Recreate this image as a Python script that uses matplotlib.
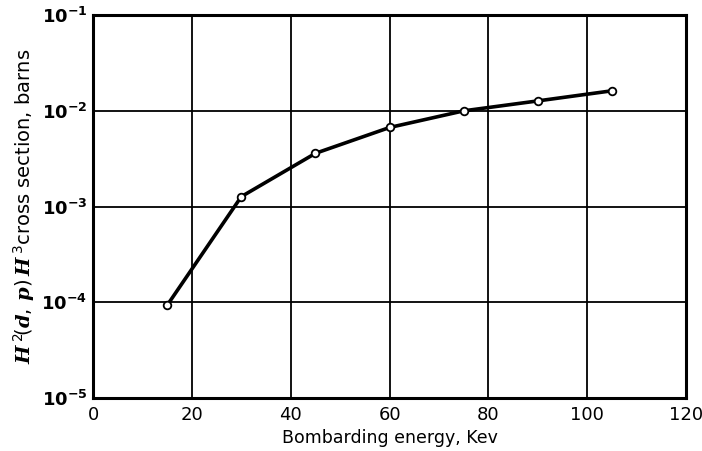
import numpy as np
import matplotlib.pyplot as plt
from matplotlib.ticker import FixedLocator, NullLocator

# DATA
energy = [15, 30, 45, 60, 75, 90, 105]          # Kev
cross_section = [9.3e-5, 1.27e-3, 3.6e-3, 6.7e-3, 1.0e-2, 1.27e-2, 1.62e-2]  # barns

x_ticks = [0, 20, 40, 60, 80, 100, 120]
y_ticks = [1e-5, 1e-4, 1e-3, 1e-2, 1e-1]
y_ticklabels = [r'$\mathbf{10^{-5}}$', r'$\mathbf{10^{-4}}$', r'$\mathbf{10^{-3}}$',
                r'$\mathbf{10^{-2}}$', r'$\mathbf{10^{-1}}$']

plt.rcParams['mathtext.fontset'] = 'custom'
plt.rcParams['mathtext.rm'] = 'DejaVu Sans'
plt.rcParams['mathtext.bf'] = 'DejaVu Sans:bold'
plt.rcParams['mathtext.it'] = 'DejaVu Serif:italic:bold'

fig = plt.figure(figsize=(7.02, 4.51), dpi=100)
ax = fig.add_axes([0.1325, 0.1175, 0.845, 0.849])

ax.set_yscale('log')
ax.set_xlim(0, 120)
ax.set_ylim(1e-5, 1e-1)

ax.xaxis.set_major_locator(FixedLocator(x_ticks))
ax.yaxis.set_major_locator(FixedLocator(y_ticks))
ax.yaxis.set_minor_locator(NullLocator())
ax.set_yticklabels(y_ticklabels)
ax.tick_params(length=0, labelsize=13, pad=4)
ax.tick_params(axis='x', pad=6)

ax.grid(True, color='black', linewidth=1.3)
for s in ax.spines.values():
    s.set_linewidth(2.2)

# Curve and data points
ax.plot(energy, cross_section, color='black', linewidth=2.6, zorder=3)
ax.plot(energy, cross_section, linestyle='none', marker='o', markersize=5.5,
        markerfacecolor='white', markeredgecolor='black', markeredgewidth=1.3, zorder=4)

ax.set_xlabel('Bombarding energy, Kev', fontsize=12.5, labelpad=3)
ax.set_ylabel(r'$H^{\,2}\!(d,\,p)\,H^{\,3}$cross section, barns',
              fontsize=14, labelpad=3)

fig.savefig('out.png', dpi=100)
